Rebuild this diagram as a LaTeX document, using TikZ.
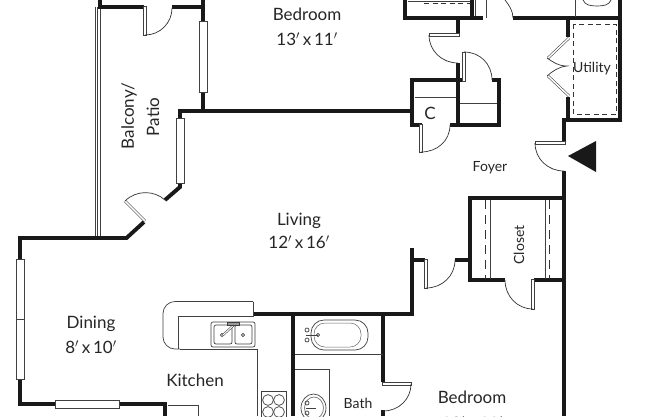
\documentclass[tikz,border=0pt]{standalone}
\usepackage{fontspec}
\setmainfont{Lato}
\tikzset{
 wall/.style={line width=3.9pt,draw=black!90,line cap=butt,line join=miter},
 thin/.style={line width=.7pt,draw=black!75},
 swing/.style={line width=.7pt,draw=black!80},
 leaf/.style={line width=.55pt,draw=black!75,double=white,double distance=1.5pt,line cap=butt},
 leafbox/.style={line width=.6pt,draw=black!75,fill=white},
 win/.style={line width=.7pt,draw=black!75,fill=white},
 dashline/.style={line width=.8pt,draw=black!80,dash pattern=on 5pt off 3.5pt},
 closetdash/.style={line width=.8pt,draw=black!80,dash pattern=on 9pt off 6pt},
 lab/.style={font=\fontsize{17}{19}\selectfont,text=black!85,inner sep=0pt},
 small/.style={font=\fontsize{14}{16}\selectfont,text=black!85,inner sep=0pt}
}
\begin{document}
\begin{tikzpicture}[x=1pt,y=-1pt]
\useasboundingbox (0,0) rectangle (652,416);
\clip (0,0) rectangle (652,416);
\fill[white] (0,0) rectangle (652,416);
% balcony rail
\foreach \xx in {95,97.5,100}{\draw[thin,line width=.6pt] (\xx,7) -- (\xx,238);}
% exterior and main walls
\draw[wall] (100,0) -- (100,7) -- (144,7);
\draw[wall] (172,7) -- (203,7);
\draw[wall] (203,0) -- (203,21);
\draw[wall] (203,92) -- (203,111);
\draw[wall] (180,118) -- (180,111) -- (412,111);
\draw[wall] (180,183) -- (180,187) -- (165,200);
\draw[wall] (144,222) -- (126.5,238) -- (20,238) -- (20,259);
\draw[wall] (20,379) -- (20,404) -- (55,404);
\draw[wall] (119,404) -- (165,404) -- (165,416);
\draw[wall] (253,314) -- (412,314) -- (412,248);
\draw[wall] (293,314) -- (293,416);
\draw[wall] (383,314) -- (383,382);
\draw[wall] (383,410) -- (383,416);
\draw[wall] (412,260) -- (425,260);
\draw[wall] (455,260) -- (470,260);
\draw[wall] (505,280) -- (470,280) -- (470,198) -- (564,198);
\draw[wall] (534,280) -- (564,280);
\draw[wall] (564,171) -- (564,416);
\draw[wall] (564,143) -- (564,120) -- (620,120) -- (620,0);
\draw[wall] (513,18) -- (620,18);
\draw[wall] (568,18) -- (568,37);
\draw[wall] (568,97) -- (568,120);
% upper closet
\draw[wall] (405,0) -- (405,18) -- (483,18);
\draw[wall] (472,0) -- (472,18);
\draw[wall] (458,18) -- (458,35);
\draw[wall] (458,63) -- (458,125);
\draw[wall] (422,125) -- (412,125) -- (412,80) -- (463,80);
\draw[wall] (492,80) -- (499,80) -- (499,125) -- (450,125);
% thin lines
\draw[thin] (408,1) -- (470,1);
\draw[dashline] (424,3.5) -- (470,3.5);
\draw[thin] (475,0) -- (475,16);
\draw[thin] (486,0) -- (486,18);
\draw[thin] (415,97) -- (456,97);
\draw[thin] (460,103) -- (497,103);
\draw[thin] (575,0) -- (575,17);
\draw[swing] (583,0) .. controls (585,5) and (590,6) .. (597,6) .. controls (604,6) and (609,5) .. (611,0);
\draw[dashline] (573,24) rectangle (616,114);
% doors
\draw[leafbox] (143.5,6) rectangle (146.5,35);
\draw[swing] (145,35) .. controls (160,35) and (172,23) .. (172,8);
\draw[leaf] (125,201) -- (145,221);
\draw[swing] (125,201) .. controls (136,190) and (154,190) .. (165,200);
\draw[leafbox] (429,33.5) rectangle (459,36.5);
\draw[swing] (429,35) .. controls (429,51) and (442,63) .. (458,63);
\draw[leafbox] (462.5,52) rectangle (465.5,81);
\draw[swing] (464,52) .. controls (480,52) and (492,64) .. (492,80);
\draw[leafbox] (419.5,124) rectangle (422.5,152);
\draw[swing] (421,152) .. controls (437,152) and (450,141) .. (450,125);
\draw[swing] (505,0) .. controls (509,5) and (513,11) .. (513,18);
\draw[leafbox] (535,141.5) rectangle (565,144.5);
\draw[swing] (535,143) .. controls (535,159) and (548,171) .. (564,171);
\draw[leafbox] (424.5,259) rectangle (427.5,288);
\draw[swing] (426,288) .. controls (442,288) and (455,276) .. (455,260);
\draw[leafbox] (531.5,279) rectangle (534.5,309);
\draw[swing] (533,309) .. controls (517,309) and (505,296) .. (505,280);
\draw[leafbox] (382,382.5) rectangle (411,385.5);
\draw[swing] (411,384) .. controls (411,399) and (399,411) .. (383,411);
% bifold
\draw[leaf] (569,38) -- (548,58);
\draw[leaf] (569,96) -- (548,76);
\draw[swing] (547,58) .. controls (553,62) and (558,66) .. (567,66) .. controls (558,67) and (553,71) .. (547,76);
% windows
\draw[win] (199,21) rectangle (207,92);
\draw[win] (176,118) rectangle (184,183);
\draw[win] (16,259) rectangle (24,379);
\draw[thin] (16,319) -- (24,319);
\draw[win] (55,400.5) rectangle (119,408);
% closet lines
\draw[thin] (490,200) -- (490,279);
\draw[thin] (545,200) -- (545,279);
\draw[closetdash] (485,200) -- (485,279);
\draw[closetdash] (549,200) -- (549,279);
% triangle
\fill[black!90] (568,156) -- (596,141) -- (596,172) -- cycle;
% kitchen counter
\draw[thin,rounded corners=12pt] (253,301.5) -- (163,301.5) -- (163,349) -- (180,349);
\draw[thin] (180,349) -- (257,349) -- (257,416);
\draw[thin] (253,301.5) -- (253,316) -- (178,316) -- (178,349);
\draw[thin] (168,405) -- (198,405) -- (198,416);
% kitchen sink
\draw[thin,rounded corners=2pt] (211,322) rectangle (255,347);
\draw[thin,rounded corners=2pt] (214,325) rectangle (232,344);
\draw[thin,rounded corners=2pt] (235,325) rectangle (252,344);
\draw[thin] (222,335) circle (1.6);
\draw[thin] (243,335) circle (1.6);
\draw[leaf,double distance=1pt] (223,335) -- (236,323);
\draw[thin,fill=black!40] (227,322.5) rectangle (239,325);
% stove
\draw[thin] (261,391) rectangle (286,420);
\foreach \xx in {268,279}\foreach \yy in {400,412}{\draw[thin] (\xx,\yy) circle (5.4);}
% tub
\draw[thin] (295,354) -- (383,354);
\draw[thin,rounded corners=13pt] (311,320) rectangle (368,350);
\draw[thin,line width=.5pt,draw=black!60,rounded corners=11pt] (314,323) rectangle (361,347);
\draw[thin] (306,335) -- (318,335);
\draw[thin] (307,330) circle (2);
\draw[thin] (307,340) circle (2);
\draw[thin] (318,335) circle (1.6);
% vanity
\draw[thin] (295,369) -- (329,369) -- (329,416);
\draw[thin] (313.5,408) ellipse (12.5 and 14);
\draw[thin,draw=black!55] (314,408) ellipse (9.5 and 11);
\draw[thin] (306,408) -- (316,408);
\draw[thin] (307,403) circle (2);
\draw[thin] (307,413) circle (2);
% labels
\node[lab] (bedA) at (307,14) {Bedroom};
\node[lab] (bedAs) at (307,39) {13$'$\,x\,11$'$};
\node[lab,rotate=90] (balc) at (129,116) {Balcony/};
\node[lab,rotate=90] (pat) at (153,117) {Patio};
\node[lab] (liv) at (299,221) {Living};
\node[lab] (livs) at (299,242) {12$'$\,x\,16$'$};
\node[small] (foy) at (490,168) {Foyer};
\node[lab] (din) at (91,324) {Dining};
\node[lab] (dins) at (91,347) {8$'$\,x\,10$'$};
\node[lab] (kit) at (195,380) {Kitchen};
\node[small] (bath) at (358,403) {Bath};
\node[lab] (bedB) at (472,397) {Bedroom};
\node[lab] (bedBs) at (472,423) {12$'$\,x\,11$'$};
\node[small,rotate=90] (clos) at (519,245) {Closet};
\node[small] (util) at (592,69) {Utility};
\node[lab] (cl) at (430,113) {C};
\end{tikzpicture}
\end{document}
